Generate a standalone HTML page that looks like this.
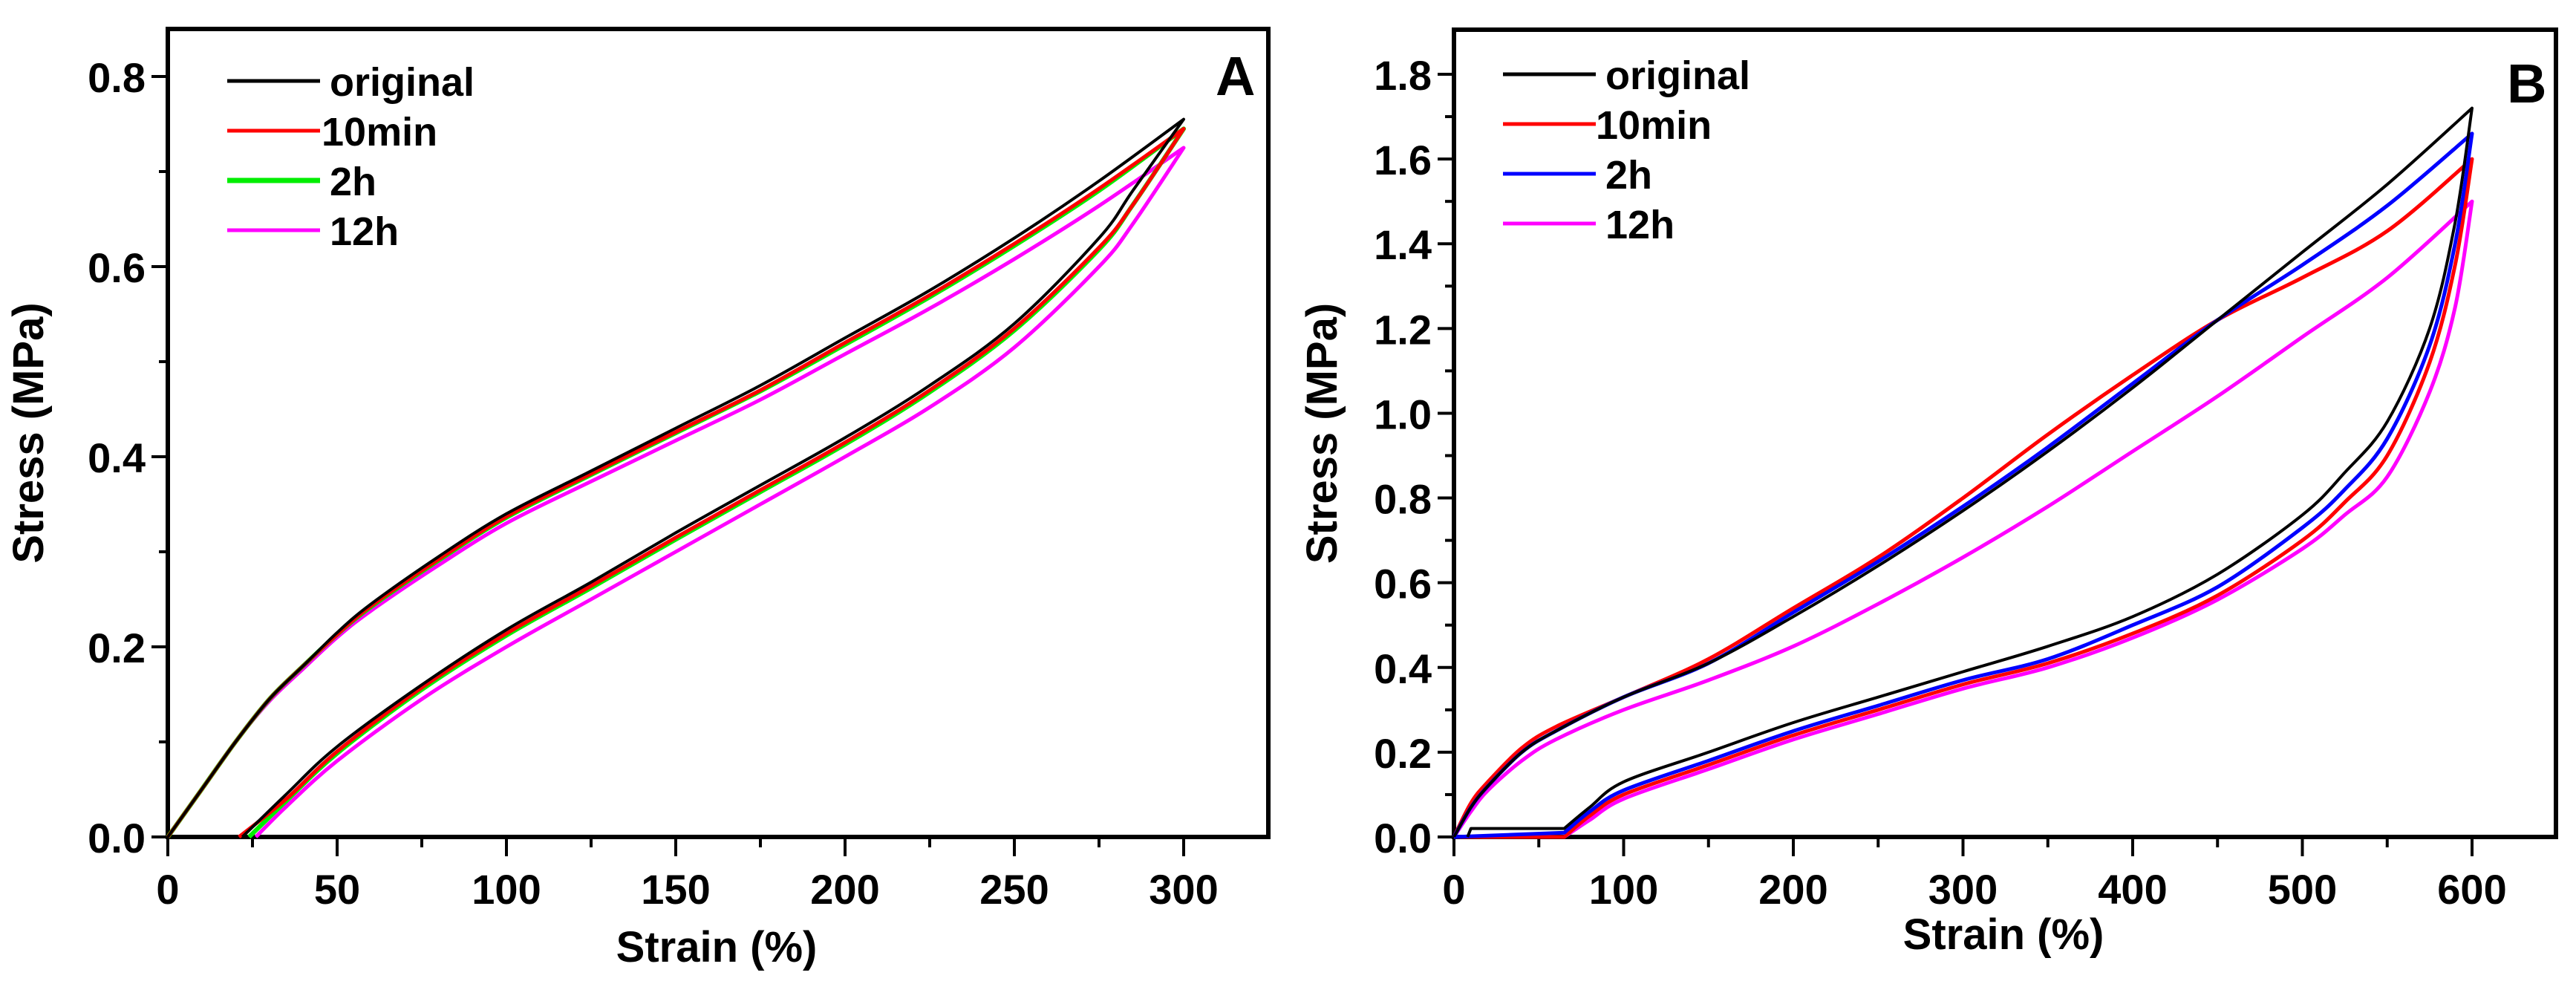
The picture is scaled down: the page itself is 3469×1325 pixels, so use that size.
<!DOCTYPE html>
<html><head><meta charset="utf-8"><style>
html,body{margin:0;padding:0;background:#fff;}
svg{display:block;font-family:"Liberation Sans",Arial,sans-serif;font-weight:bold;}
</style></head><body>
<svg id="fig" width="3469" height="1325" viewBox="0 0 3469 1325" xmlns="http://www.w3.org/2000/svg"></svg>
<script>
// ---- Panel A data ----
const aTicksX = [0,50,100,150,200,250,300];
const aTicksY = [0.0,0.2,0.4,0.6,0.8];
const aLoadX = [0,10,20,30,40,50,60,80,100,125,150,175,200,225,250,275,300];
const aLoadOrig = [0,0.05,0.10,0.145,0.18,0.215,0.245,0.295,0.34,0.385,0.43,0.475,0.525,0.575,0.63,0.69,0.755];
const aLoad10m  = [0,0.05,0.10,0.145,0.18,0.213,0.243,0.292,0.337,0.382,0.426,0.47,0.52,0.57,0.624,0.682,0.745];
const aLoad2h   = [0,0.05,0.10,0.145,0.18,0.213,0.242,0.291,0.336,0.381,0.425,0.469,0.518,0.568,0.622,0.68,0.745];
const aLoad12h  = [0,0.05,0.10,0.143,0.177,0.21,0.238,0.286,0.33,0.374,0.417,0.46,0.508,0.556,0.608,0.664,0.725];
const aUnX = [300,285,275,250,225,200,175,150,125,100,75,50,35];
const aUnOrig = [0.755,0.68,0.63,0.54,0.475,0.42,0.37,0.32,0.268,0.218,0.16,0.095,0.045];
const aUn10m  = [0.745,0.665,0.62,0.535,0.47,0.415,0.365,0.315,0.264,0.214,0.157,0.09,0.04];
const aUn2h   = [0.745,0.665,0.618,0.533,0.468,0.413,0.363,0.313,0.262,0.212,0.155,0.088,0.038];
const aUn12h  = [0.725,0.645,0.6,0.515,0.452,0.4,0.35,0.3,0.25,0.2,0.145,0.08,0.032];
const aZeroOrig = 22, aZero10m = 21, aZero2h = 24, aZero12h = 26;
// ---- Panel B data ----
const bTicksX = [0,100,200,300,400,500,600];
const bTicksY = [0.0,0.2,0.4,0.6,0.8,1.0,1.2,1.4,1.6,1.8];
const bLoadX = [0,10,20,40,60,100,150,200,250,300,350,400,450,500,550,600];
const bLoadOrig = [0,0.07,0.12,0.2,0.25,0.33,0.41,0.52,0.64,0.77,0.91,1.06,1.22,1.38,1.54,1.72];
const bLoad10m  = [0,0.08,0.13,0.21,0.26,0.33,0.42,0.54,0.66,0.80,0.95,1.09,1.22,1.32,1.43,1.60];
const bLoad2h   = [0,0.07,0.12,0.2,0.25,0.33,0.41,0.53,0.65,0.78,0.92,1.07,1.22,1.35,1.49,1.66];
const bLoad12h  = [0,0.06,0.11,0.18,0.23,0.30,0.37,0.45,0.55,0.66,0.78,0.91,1.04,1.18,1.32,1.50];
const bUnX = [600,590,575,550,525,500,450,400,350,300,250,200,150,100,80,65];
const bUnOrig = [1.72,1.45,1.2,0.98,0.86,0.76,0.62,0.52,0.45,0.39,0.33,0.27,0.20,0.13,0.07,0.02];
const bUn10m  = [1.60,1.35,1.12,0.9,0.79,0.70,0.57,0.48,0.41,0.36,0.30,0.24,0.17,0.10,0.05,0];
const bUn2h   = [1.66,1.40,1.16,0.94,0.82,0.73,0.59,0.50,0.42,0.37,0.31,0.25,0.18,0.11,0.06,0.01];
const bUn12h  = [1.50,1.25,1.05,0.85,0.76,0.68,0.56,0.47,0.40,0.35,0.29,0.23,0.16,0.09,0.04,0];

const NS="http://www.w3.org/2000/svg";
const svg=document.getElementById('fig');
function el(tag,attrs,parent){const e=document.createElementNS(NS,tag);for(const k in attrs)e.setAttribute(k,attrs[k]);(parent||svg).appendChild(e);return e;}

function smooth(pts,first){
  let d=(first?'M':'L')+pts[0][0].toFixed(1)+','+pts[0][1].toFixed(1);
  for(let i=0;i<pts.length-1;i++){
    const p0=pts[Math.max(0,i-1)],p1=pts[i],p2=pts[i+1],p3=pts[Math.min(pts.length-1,i+2)];
    const c1=[p1[0]+(p2[0]-p0[0])/6,p1[1]+(p2[1]-p0[1])/6];
    const c2=[p2[0]-(p3[0]-p1[0])/6,p2[1]-(p3[1]-p1[1])/6];
    d+=` C${c1[0].toFixed(1)},${c1[1].toFixed(1)} ${c2[0].toFixed(1)},${c2[1].toFixed(1)} ${p2[0].toFixed(1)},${p2[1].toFixed(1)}`;
  }
  return d;
}

function panel(cfg){
  const g=el('g',{});
  
  
  const sx=v=>cfg.x0+(v-cfg.xmin)*(cfg.x1-cfg.x0)/(cfg.xmax-cfg.xmin);
  const sy=v=>cfg.y0-(v)*(cfg.y0-cfg.yTop)/(cfg.ymaxTick);
  const fr=el('rect',{x:cfg.x0,y:cfg.top,width:cfg.right-cfg.x0,height:cfg.y0-cfg.top,fill:'none',stroke:'#000','stroke-width':6},g);
  
  
  cfg.ticksX.forEach((t,i)=>{
    const x=sx(t);
    const tk=el('line',{x1:x,x2:x,y1:cfg.y0,y2:cfg.y0+26,stroke:'#000','stroke-width':4},g);
    
    
    if(i<cfg.ticksX.length-1){const m=sx((t+cfg.ticksX[i+1])/2);el('line',{x1:m,x2:m,y1:cfg.y0,y2:cfg.y0+14,stroke:'#000','stroke-width':4},g);}
    const tx=el('text',{x:x,y:cfg.y0+90,'font-size':56,'text-anchor':'middle'},g);
    tx.textContent=String(t);
    
    
  });
  cfg.ticksY.forEach((t,i)=>{
    const y=sy(t);
    const tk=el('line',{x1:cfg.x0,x2:cfg.x0-22,y1:y,y2:y,stroke:'#000','stroke-width':4},g);
    
    
    if(i<cfg.ticksY.length-1){const m=sy((t+cfg.ticksY[i+1])/2);el('line',{x1:cfg.x0,x2:cfg.x0-12,y1:m,y2:m,stroke:'#000','stroke-width':4},g);}
    const tx=el('text',{x:cfg.x0-30,y:y+21,'font-size':56,'text-anchor':'end'},g);
    tx.textContent=t.toFixed(1);
    
    
  });
  const xt=el('text',{x:cfg.xtX,y:cfg.xtY,'font-size':58,'text-anchor':'middle'},g);
  xt.textContent='Strain (%)';
  
  
  const yt=el('text',{x:0,y:0,'font-size':58,'text-anchor':'middle',transform:`translate(${cfg.ytX},${(cfg.top+cfg.y0)/2}) rotate(-90)`},g);
  yt.textContent='Stress (MPa)';
  
  
  const pl=el('text',{x:cfg.labX,y:cfg.labY,'font-size':74},g);
  pl.textContent=cfg.label;
  
  
  cfg.series.forEach(s=>{
    const lp=s.lx.map((x,i)=>[sx(x),sy(s.ly[i])]);
    const up=s.ux.map((x,i)=>[sx(x),sy(s.uy[i])]);
    let d=smooth(lp,true)+' '+smooth(up,false);
    if(s.tx){s.tx.forEach((x,i)=>{d+=` L${sx(x).toFixed(1)},${sy(s.ty[i]).toFixed(1)}`;});}
    const p=el('path',{d:d,fill:'none',stroke:s.color,'stroke-width':s.w||5,'stroke-linejoin':'round'},g);
    
    
  });
  cfg.legend.forEach((L,i)=>{
    const y=cfg.legY+i*cfg.legDy;
    const ln=el('line',{x1:cfg.legX,x2:cfg.legX+125,y1:y,y2:y,stroke:L.color,'stroke-width':L.w||5},g);
    
    
    const t=el('text',{x:cfg.legX+(L.off||138),y:y+20,'font-size':54},g);
    t.textContent=L.text;
    
    
  });
}

panel({name:'panel-a',x0:226,x1:1594,xmin:0,xmax:300,right:1708,top:39,y0:1127,yTop:103,ymaxTick:0.8,
  ticksX:aTicksX,ticksY:aTicksY,xtX:965,xtY:1295,ytX:58,labX:1637,labY:128,label:'A',
  series:[
    {name:'series-12h',color:'#ff00ff',lx:aLoadX,ly:aLoad12h,ux:aUnX.concat([aZero12h]),uy:aUn12h.concat([0])},
    {name:'series-2h',color:'#00ee00',w:6,lx:aLoadX,ly:aLoad2h,ux:aUnX.concat([aZero2h]),uy:aUn2h.concat([0])},
    {name:'series-10min',color:'#ff0000',lx:aLoadX,ly:aLoad10m,ux:aUnX.concat([aZero10m]),uy:aUn10m.concat([0])},
    {name:'series-original',color:'#000',w:4,lx:aLoadX,ly:aLoadOrig,ux:aUnX.concat([aZeroOrig]),uy:aUnOrig.concat([0])}
  ],
  legX:306,legY:109,legDy:67,
  legend:[{text:'original',color:'#000'},{text:'10min',color:'#ff0000',off:127},{text:'2h',color:'#00ee00',w:7},{text:'12h',color:'#ff00ff'}]
});

panel({name:'panel-b',x0:1958,x1:3329,xmin:0,xmax:600,right:3442,top:40,y0:1127,yTop:100,ymaxTick:1.8,
  ticksX:bTicksX,ticksY:bTicksY,xtX:2698,xtY:1278,ytX:1800,labX:3376,labY:138,label:'B',
  series:[
    {name:'series-12h',color:'#ff00ff',lx:bLoadX,ly:bLoad12h,ux:bUnX,uy:bUn12h,tx:[0],ty:[0]},
    {name:'series-10min',color:'#ff0000',lx:bLoadX,ly:bLoad10m,ux:bUnX,uy:bUn10m,tx:[0],ty:[0]},
    {name:'series-2h',color:'#0000ff',lx:bLoadX,ly:bLoad2h,ux:bUnX,uy:bUn2h,tx:[0],ty:[0]},
    {name:'series-original',color:'#000',w:4,lx:bLoadX,ly:bLoadOrig,ux:bUnX,uy:bUnOrig,tx:[10,8],ty:[0.02,0]}
  ],
  legX:2024,legY:100,legDy:67,
  legend:[{text:'original',color:'#000'},{text:'10min',color:'#ff0000',off:125},{text:'2h',color:'#0000ff'},{text:'12h',color:'#ff00ff'}]
});
</script>
</body></html>
